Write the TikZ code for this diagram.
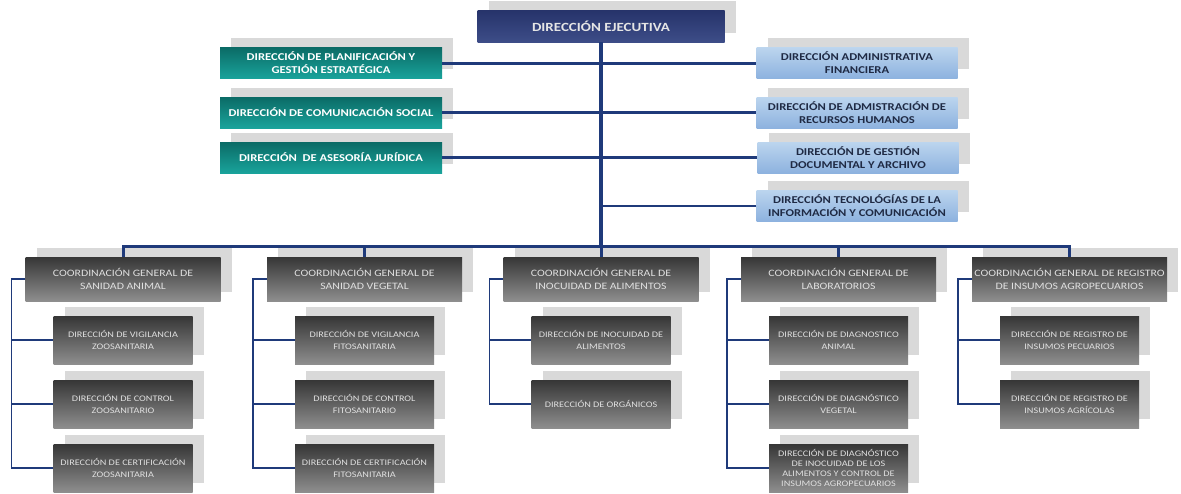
\documentclass[tikz,border=0pt]{standalone}
\usepackage{fontspec}
\setmainfont{Carlito}[FakeStretch=1.2]
\usepackage{tikz}
\usetikzlibrary{shadows}
\definecolor{linenavy}{HTML}{1F3A7A}
\definecolor{shadowgray}{HTML}{D9D9D9}
\definecolor{exectop}{HTML}{26336A}
\definecolor{execbottom}{HTML}{3D4D88}
\definecolor{tealtop}{HTML}{0B6B66}
\definecolor{tealbottom}{HTML}{19A39B}
\definecolor{bluetop}{HTML}{BCD5EE}
\definecolor{bluemid}{HTML}{D9E7F6}
\definecolor{bluebottom}{HTML}{8DB2DF}
\definecolor{bluetext}{HTML}{1F2A44}
\definecolor{graytop}{HTML}{363636}
\definecolor{graybottom}{HTML}{8E8E8E}
\tikzset{
    basenode/.style = {align=center, inner sep=0pt, text centered, general shadow={fill=shadowgray, shadow xshift=11pt, shadow yshift=9.5pt}},
    exec_node/.style = {basenode, top color=exectop, bottom color=execbottom, text=white!90!black, font=\bfseries\fontsize{12.5}{15}\selectfont, minimum width=247pt, minimum height=32pt},
    teal_node/.style = {basenode, top color=tealtop, bottom color=tealbottom, text=white, font=\bfseries\fontsize{10.5}{13}\selectfont, minimum width=222pt, minimum height=31pt},
    blue_node/.style = {basenode, top color=bluetop, middle color=bluemid, bottom color=bluebottom, text=bluetext, font=\bfseries\fontsize{10.5}{13}\selectfont, minimum width=201pt, minimum height=31pt},
    coord_node/.style = {basenode, top color=graytop, bottom color=graybottom, text=white!88!black, font=\fontsize{9.8}{12.5}\selectfont, minimum width=195pt, minimum height=44pt},
    sub_node/.style = {basenode, top color=graytop, bottom color=graybottom, text=white!88!black, font=\fontsize{8.5}{11.5}\selectfont, minimum width=139pt, minimum height=48pt}
}

\begin{document}
\begin{tikzpicture}
    [x=1pt, y=-1pt,
    trunk_line/.style={draw=linenavy, line width=3.5pt},
    main_line/.style={draw=linenavy, line width=3pt},
    stub_line/.style={draw=linenavy, line width=2pt},
    bracket_line/.style={draw=linenavy, line width=1.6pt}]

    \useasboundingbox (0,0) rectangle (1181,493);

    \node [exec_node] (exec) at (601,26) {DIRECCIÓN EJECUTIVA};

    \node [teal_node] (plan) at (331,63) {DIRECCIÓN DE PLANIFICACIÓN Y\\GESTIÓN ESTRATÉGICA};
    \node [teal_node] (comu) at (331,112.5) {DIRECCIÓN DE COMUNICACIÓN SOCIAL};
    \node [teal_node] (jur) at (331,157.5) {DIRECCIÓN \ DE ASESORÍA JURÍDICA};

    \node [blue_node] (admin) at (857,63) {DIRECCIÓN ADMINISTRATIVA\\FINANCIERA};
    \node [blue_node] (rrhh) at (857,112.5) {DIRECCIÓN DE ADMISTRACIÓN DE\\RECURSOS HUMANOS};
    \node [blue_node] (docu) at (858,157.5) {DIRECCIÓN DE GESTIÓN\\DOCUMENTAL Y ARCHIVO};
    \node [blue_node] (tic) at (857,205.5) {DIRECCIÓN TECNOLÓGÍAS DE LA\\INFORMACIÓN Y COMUNICACIÓN};

    \coordinate (bus) at (601,246);

    \node [coord_node] (animal) at (123,279) {COORDINACIÓN GENERAL DE\\SANIDAD ANIMAL};
    \node [coord_node] (vegetal) at (364.5,279) {COORDINACIÓN GENERAL DE\\SANIDAD VEGETAL};
    \node [coord_node] (inocuidad) at (601,279) {COORDINACIÓN GENERAL DE\\INOCUIDAD DE ALIMENTOS};
    \node [coord_node] (lab) at (838.5,279) {COORDINACIÓN GENERAL DE\\LABORATORIOS};
    \node [coord_node] (registro) at (1069.5,279) {COORDINACIÓN GENERAL DE REGISTRO\\DE INSUMOS AGROPECUARIOS};

    \node [sub_node] (animal_1) at (123,340) {DIRECCIÓN DE VIGILANCIA\\ZOOSANITARIA};
    \node [sub_node] (animal_2) at (123,404) {DIRECCIÓN DE CONTROL\\ZOOSANITARIO};
    \node [sub_node] (animal_3) at (123,468) {DIRECCIÓN DE CERTIFICACIÓN\\ZOOSANITARIA};

    \node [sub_node] (vegetal_1) at (364.5,340) {DIRECCIÓN DE VIGILANCIA\\FITOSANITARIA};
    \node [sub_node] (vegetal_2) at (364.5,404) {DIRECCIÓN DE CONTROL\\FITOSANITARIO};
    \node [sub_node] (vegetal_3) at (364.5,468) {DIRECCIÓN DE CERTIFICACIÓN\\FITOSANITARIA};

    \node [sub_node] (inocuidad_1) at (601,340) {DIRECCIÓN DE INOCUIDAD DE\\ALIMENTOS};
    \node [sub_node] (inocuidad_2) at (601,404) {DIRECCIÓN DE ORGÁNICOS};

    \node [sub_node] (lab_1) at (838.5,340) {DIRECCIÓN DE DIAGNOSTICO\\ANIMAL};
    \node [sub_node] (lab_2) at (838.5,404) {DIRECCIÓN DE DIAGNÓSTICO\\VEGETAL};
    \node [sub_node, font=\fontsize{8.5}{10}\selectfont] (lab_3) at (838.5,468) {DIRECCIÓN DE DIAGNÓSTICO\\DE INOCUIDAD DE LOS\\ALIMENTOS Y CONTROL DE\\INSUMOS AGROPECUARIOS};

    \node [sub_node] (registro_1) at (1069.5,340) {DIRECCIÓN DE REGISTRO DE\\INSUMOS PECUARIOS};
    \node [sub_node] (registro_2) at (1069.5,404) {DIRECCIÓN DE REGISTRO DE\\INSUMOS AGRÍCOLAS};

    \draw [trunk_line] (exec.south) -- (bus);
    \draw [main_line] (plan.east) -- (plan.east -| admin.west);
    \draw [main_line] (comu.east) -- (comu.east -| rrhh.west);
    \draw [main_line] (jur.east) -- (jur.east -| docu.west);
    \draw [stub_line] (tic.west) -- (tic.west -| bus);

    \draw [main_line] (animal.north) |- (bus) -| (registro.north);
    \draw [main_line] (vegetal.north) -- (vegetal.north |- bus);
    \draw [main_line] (inocuidad.north) -- (bus);
    \draw [main_line] (lab.north) -- (lab.north |- bus);

    \coordinate (animal_k) at ([xshift=-14pt]animal.west);
    \draw [bracket_line] (animal.west) -- (animal_k) |- (animal_3.west);
    \draw [bracket_line] (animal_k |- animal_1.west) -- (animal_1.west);
    \draw [bracket_line] (animal_k |- animal_2.west) -- (animal_2.west);

    \coordinate (vegetal_k) at ([xshift=-14pt]vegetal.west);
    \draw [bracket_line] (vegetal.west) -- (vegetal_k) |- (vegetal_3.west);
    \draw [bracket_line] (vegetal_k |- vegetal_1.west) -- (vegetal_1.west);
    \draw [bracket_line] (vegetal_k |- vegetal_2.west) -- (vegetal_2.west);

    \coordinate (inocuidad_k) at ([xshift=-14pt]inocuidad.west);
    \draw [bracket_line] (inocuidad.west) -- (inocuidad_k) |- (inocuidad_2.west);
    \draw [bracket_line] (inocuidad_k |- inocuidad_1.west) -- (inocuidad_1.west);

    \coordinate (lab_k) at ([xshift=-14pt]lab.west);
    \draw [bracket_line] (lab.west) -- (lab_k) |- (lab_3.west);
    \draw [bracket_line] (lab_k |- lab_1.west) -- (lab_1.west);
    \draw [bracket_line] (lab_k |- lab_2.west) -- (lab_2.west);

    \coordinate (registro_k) at ([xshift=-14pt]registro.west);
    \draw [bracket_line] (registro.west) -- (registro_k) |- (registro_2.west);
    \draw [bracket_line] (registro_k |- registro_1.west) -- (registro_1.west);
\end{tikzpicture}
\end{document}
